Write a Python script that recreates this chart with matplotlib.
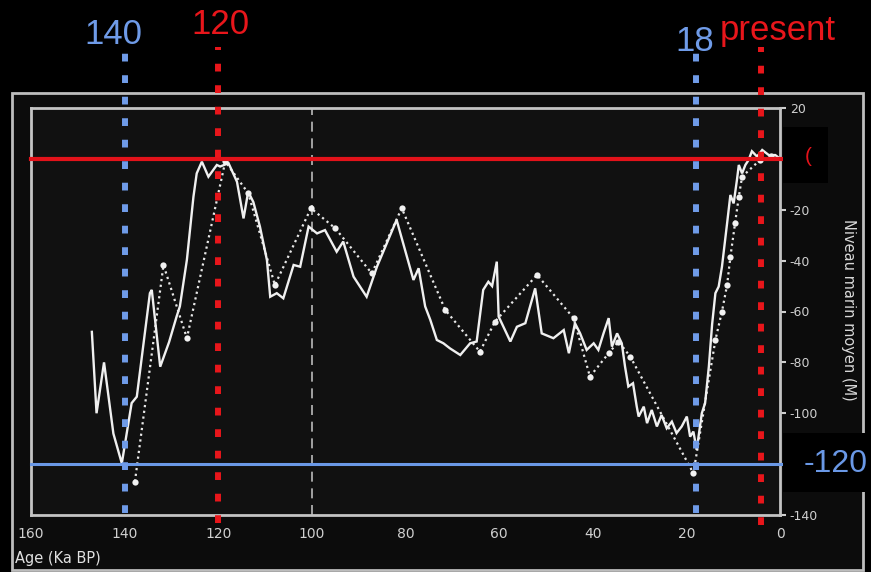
import matplotlib
matplotlib.use("Agg")
import matplotlib.pyplot as plt
from matplotlib.patches import Rectangle
from matplotlib.transforms import blended_transform_factory

# ---------------- data ----------------
solid_age = [147.0, 146.0, 144.4, 142.4, 140.6, 138.5, 137.4, 134.6, 134.2, 132.4,
             130.5, 128.9, 128.2, 126.7, 125.3, 124.6, 123.5, 122.1, 120.3, 119.6,
             117.8, 116.0, 114.6, 113.6, 112.5, 111.1, 109.6, 108.9, 107.5, 106.1,
             103.9, 102.5, 100.7, 98.9, 97.2, 94.7, 93.3, 91.1, 88.3, 86.1,
             81.9, 78.3, 77.2, 75.8, 74.7, 73.3, 71.9, 70.5, 68.3, 66.2,
             64.8, 63.4, 62.3, 61.5, 60.5, 60.1, 57.6, 56.2, 54.4, 52.3,
             50.9, 48.4, 46.2, 45.1, 43.8, 42.7, 41.3, 39.8, 38.8, 37.7,
             36.6, 35.9, 34.8, 33.8, 33.1, 32.4, 31.4, 30.6, 30.2, 29.1,
             28.4, 27.4, 26.3, 25.3, 24.2, 23.1, 22.1, 21.0, 19.9, 19.2,
             18.5, 17.8, 16.7, 16.0, 15.2,
             14.5, 13.8, 13.1, 12.4, 11.3, 10.6, 9.9, 9.2, 8.8, 8.1,
             7.4, 6.7, 6.0, 4.9, 3.8, 2.4, 1.0, 0.3]
solid_level = [-68, -100, -80, -108, -119.7, -96, -93.5, -52.8, -51.5, -81.7,
               -72, -62, -58, -39.7, -14.9, -5.7, -1.1, -7, -2.4, -3,
               -1.7, -9, -23.4, -12.9, -17, -26.6, -39.8, -54.2, -52.8, -54.8,
               -41.7, -42.4, -26.6, -29.3, -28, -36.5, -32.5, -46.3, -54.2, -42.4,
               -24, -47.6, -43, -58, -63.3, -71.2, -72.5, -74.5, -77.1, -72.5,
               -71.8, -51.5, -48.3, -50, -40.4, -62, -71.8, -66, -64.6, -50.9,
               -68.6, -70.5, -67.3, -76.4, -64.6, -68.6, -75.1, -72.5, -75.1, -68.6,
               -62.6, -73.8, -68.6, -72.5, -81.7, -89.5, -88.2, -97.4, -101.3, -97.4,
               -103.9, -98.7, -105.2, -100.7, -105.9, -103.3, -107.8, -105.2, -101.3, -109.2,
               -107.2, -114.4, -100, -96, -81.7,
               -65, -52.8, -50.2, -42.4, -25.3, -14.2, -17.5, -8.3, -2.4, -5.7,
               -2.4, -0.4, 3, 0.9, 3.5, 1.5, 1.5, 0.5]

dotted_age = [137.8, 131.7, 126.7, 118.5, 113.6, 107.9, 100.2, 95.0, 87.2, 80.8,
              71.5, 64.1, 60.9, 51.9, 44.1, 40.6, 36.6, 34.5, 32.0, 18.5,
              13.8, 12.4, 11.3, 10.6, 9.6, 8.8, 8.1, 4.3, 2.0]
dotted_level = [-126.9, -41.7, -70.5, -1, -13.5, -49.6, -19.4, -27.3, -45, -19.4,
                -59.4, -75.8, -64, -45.6, -62.6, -85.6, -76.4, -71.8, -77.7, -123.6,
                -71.2, -60, -49.6, -38.5, -25.3, -14.9, -7, -0.5, 1]

x_ticks = [160, 140, 120, 100, 80, 60, 40, 20, 0]
y_ticks = [20, 0, -20, -40, -60, -80, -100, -120, -140]
y_tick_labels = ["20", "", "-20", "-40", "-60", "-80", "-100", "", "-140"]

marker_ages = [140, 120, 18, 4]
marker_labels = ["140", "120", "18", "present"]
marker_colors = ["#6f9be8", "#e8161b", "#6f9be8", "#e8161b"]

ref_levels = [0, -120]
ref_colors = ["#e3121a", "#6a98e6"]

# ---------------- figure ----------------
W, H = 871, 572
fig = plt.figure(figsize=(W / 100, H / 100), dpi=100, facecolor="black")

def fx(px):
    return px / W

def fy(py):
    return 1 - py / H

# outer frame
outer = Rectangle((fx(12), fy(570)), fx(863) - fx(12), fy(93) - fy(570),
                  transform=fig.transFigure, facecolor="#0c0c0c",
                  edgecolor="#bdbdbd", lw=2, zorder=-1)
fig.patches.append(outer)

ax = fig.add_axes([fx(31), fy(515), fx(780) - fx(31), fy(108) - fy(515)])
ax.set_facecolor("#111111")
ax.set_xlim(160, 0)
ax.set_ylim(-140, 20)
for s in ax.spines.values():
    s.set_color("#c4c4c4")
    s.set_linewidth(2)

ax.yaxis.tick_right()
ax.set_yticks(y_ticks)
ax.set_yticklabels(y_tick_labels)
ax.set_xticks(x_ticks)
ax.set_xticklabels([str(v) for v in x_ticks])
ax.tick_params(axis="y", colors="#d0d0d0", labelsize=9, length=4, width=1.5,
               direction="out", pad=3)
ax.tick_params(axis="x", colors="#d0d0d0", labelsize=10, length=0, pad=9)

# vertical dashed at 100
ax.axvline(100, color="#bbbbbb", lw=1.2, linestyle=(0, (6, 4)), zorder=1)

# data curves
ax.plot(solid_age, solid_level, color="#f0f0f0", lw=1.7, zorder=4,
        solid_joinstyle="miter")
ax.plot(dotted_age, dotted_level, color="#e8e8e8", lw=1.6, linestyle=(0, (1, 1.6)),
        marker="o", ms=4.5, markerfacecolor="#f2f2f2", markeredgewidth=0, zorder=3)

# reference horizontal lines
ax.axhline(ref_levels[0], xmin=0, xmax=1.004, color=ref_colors[0], lw=3,
           clip_on=False, zorder=5)
ax.axhline(ref_levels[1], xmin=0, xmax=1.004, color=ref_colors[1], lw=2.2,
           clip_on=False, zorder=5)

# vertical dotted marker lines
bottoms = [0.005, -0.02, 0.005, -0.025]
for a, c, b in zip(marker_ages, marker_colors, bottoms):
    ax.axvline(a, ymin=b, ymax=1.15, color=c, lw=4.3,
               linestyle=(0, (1.3, 2.3)), clip_on=False, zorder=6)

# labels above
trans = blended_transform_factory(ax.transData, ax.transAxes)
label_x = [142.3, 119.6, 18.3, 0.4]
label_y = [1.180, 1.205, 1.163, 1.19]
for lx, ly, t, c in zip(label_x, label_y, marker_labels, marker_colors):
    ax.text(lx, ly, t, transform=trans, color=c, fontsize=25,
            family="Liberation Sans", ha="center", va="center", clip_on=False,
            zorder=7)

# boxes on the right
box0 = Rectangle((fx(783), fy(183)), fx(828) - fx(783), fy(127) - fy(183),
                 transform=fig.transFigure, facecolor="black", edgecolor="none",
                 zorder=4)
box1 = Rectangle((fx(783), fy(492)), fx(871) - fx(783), fy(433) - fy(492),
                 transform=fig.transFigure, facecolor="black", edgecolor="none",
                 zorder=4)
fig.patches.extend([box0, box1])
fig.text(fx(808), fy(157), "(", color="#e3121a", fontsize=15,
         family="Liberation Sans", ha="center", va="center", zorder=5)
fig.text(fx(836), fy(464), "-120", color="#6a98e6", fontsize=23,
         family="Liberation Sans", ha="center", va="center", zorder=5)

# axis labels
fig.text(fx(848), fy(310), "Niveau marin moyen (M)", rotation=-90, color="#d8d8d8",
         fontsize=10.5, ha="center", va="center")
fig.text(fx(15), fy(558), "Age (Ka BP)", color="#e0e0e0", fontsize=10.5,
         ha="left", va="center")

fig.savefig("out.png", dpi=100, facecolor="black")
